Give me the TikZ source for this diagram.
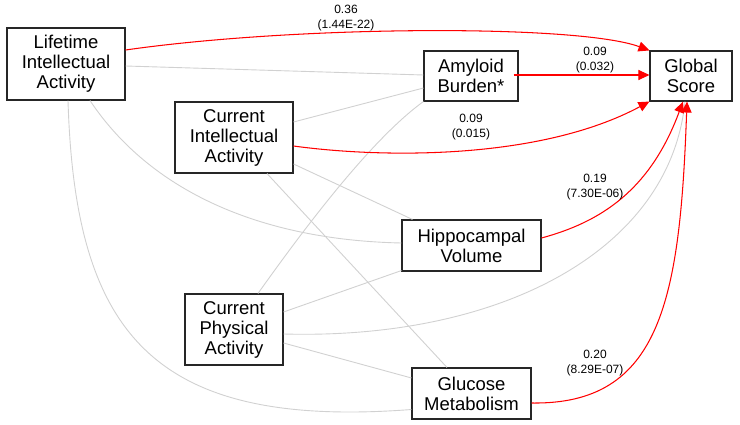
\documentclass[tikz,border=0pt]{standalone}
\usepackage{fontspec}
\setmainfont{Liberation Sans}
\usetikzlibrary{arrows.meta}
\begin{document}
\begin{tikzpicture}[x=1pt,y=-1pt,
  box/.style={draw=black!85, line width=1.1pt, fill=white, align=center, inner sep=0pt, font=\fontsize{18.5}{20}\selectfont},
  assoc/.style={draw=black!18, line width=0.9pt},
  effect/.style={draw=red, line width=1.05pt, -{Triangle[length=11pt,width=10pt]}},
  lbl/.style={align=center, font=\fontsize{12}{14.5}\selectfont, inner sep=0pt}]
\useasboundingbox (0,0) rectangle (740,425);

% nodes
\node[box, minimum width=118pt, minimum height=72pt] (life) at (66,64) {Lifetime\\Intellectual\\Activity};
\node[box, minimum width=118pt, minimum height=71pt] (cint) at (234,137.5) {Current\\Intellectual\\Activity};
\node[box, minimum width=94pt, minimum height=50pt] (amy) at (471,76) {Amyloid\\Burden*};
\node[box, minimum width=82pt, minimum height=50pt] (glob) at (691,76) {Global\\Score};
\node[box, minimum width=98pt, minimum height=71pt] (cphys) at (234,329.5) {Current\\Physical\\Activity};
\node[box, minimum width=139pt, minimum height=51pt] (hip) at (471.5,245.5) {Hippocampal\\Volume};
\node[box, minimum width=119pt, minimum height=51pt] (glu) at (471.5,393.5) {Glucose\\Metabolism};

% associations (grey)
\draw[assoc] ([yshift=-2pt]life.east) -- ([yshift=1pt]amy.west);
\draw[assoc] ([xshift=24pt]life.south) .. controls +(60,90) and +(-142,-3) .. ([yshift=2.5pt]hip.west);
\draw[assoc] ([xshift=2pt]life.south) .. controls +(7,230) and +(-262,20) .. ([yshift=-16pt]glu.west);
\draw[assoc] ([yshift=15.5pt]cint.east) -- ([yshift=-12pt]amy.west);
\draw[assoc] ([yshift=-26.5pt]cint.east) -- ([xshift=11pt]hip.north west);
\draw[assoc] ([xshift=33pt]cint.south) -- ([xshift=-24.5pt]glu.north);
\draw[assoc] ([xshift=24pt]cphys.north) .. controls +(42,-59) and +(-54,39) .. (amy.south west);
\draw[assoc] ([yshift=17.5pt]cphys.east) -- ([yshift=1pt]hip.south west);
\draw[assoc] ([yshift=-4.5pt]cphys.east) .. controls +(217,6) and +(-15,149) .. ([xshift=-6pt]glob.south);
\draw[assoc] ([yshift=-13.5pt]cphys.east) -- ([yshift=15.5pt]glu.west);

% effects (red)
\draw[effect] ([yshift=14pt]life.east) .. controls +(175,-25) and +(-70,-26) .. (glob.north west);
\draw[effect] ([xshift=-5pt,yshift=1pt]amy.east) -- ([yshift=1pt]glob.west);
\draw[effect] ([yshift=-8.5pt]cint.east) .. controls +(87,12) and +(-110,59) .. (glob.south west);
\draw[effect] ([yshift=7.5pt]hip.east) .. controls +(59,-16) and +(-33,89) .. ([xshift=-8pt]glob.south);
\draw[effect] ([yshift=-9.5pt]glu.east) .. controls +(129,2) and +(-7,199) .. ([xshift=-4pt]glob.south);

% labels
\node[lbl] (l1) at (346,18) {0.36\\(1.44E-22)};
\node[lbl] (l2) at (595,60) {0.09\\(0.032)};
\node[lbl] (l3) at (471,127) {0.09\\(0.015)};
\node[lbl] (l4) at (595,187) {0.19\\(7.30E-06)};
\node[lbl] (l5) at (595,363) {0.20\\(8.29E-07)};
\end{tikzpicture}
\end{document}
